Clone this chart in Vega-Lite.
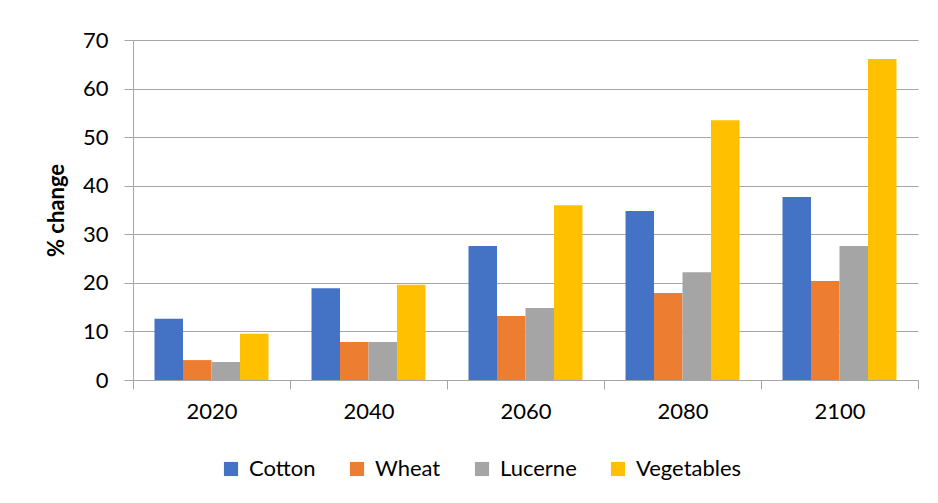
{
  "$schema": "https://vega.github.io/schema/vega-lite/v6.json",
  "width": 785,
  "height": 340,
  "autosize": {"type": "none"},
  "padding": {"left": 133, "top": 40, "right": 20, "bottom": 123},
  "background": "white",
  "data": {"values": [
    {"year": "2020", "crop": "Cotton", "value": 12.6},
    {"year": "2020", "crop": "Wheat", "value": 4.1},
    {"year": "2020", "crop": "Lucerne", "value": 3.7},
    {"year": "2020", "crop": "Vegetables", "value": 9.5},
    {"year": "2040", "crop": "Cotton", "value": 18.9},
    {"year": "2040", "crop": "Wheat", "value": 7.8},
    {"year": "2040", "crop": "Lucerne", "value": 7.8},
    {"year": "2040", "crop": "Vegetables", "value": 19.6},
    {"year": "2060", "crop": "Cotton", "value": 27.6},
    {"year": "2060", "crop": "Wheat", "value": 13.2},
    {"year": "2060", "crop": "Lucerne", "value": 14.8},
    {"year": "2060", "crop": "Vegetables", "value": 36.0},
    {"year": "2080", "crop": "Cotton", "value": 34.8},
    {"year": "2080", "crop": "Wheat", "value": 17.9},
    {"year": "2080", "crop": "Lucerne", "value": 22.2},
    {"year": "2080", "crop": "Vegetables", "value": 53.5},
    {"year": "2100", "crop": "Cotton", "value": 37.7},
    {"year": "2100", "crop": "Wheat", "value": 20.4},
    {"year": "2100", "crop": "Lucerne", "value": 27.6},
    {"year": "2100", "crop": "Vegetables", "value": 66.1}
  ]},
  "mark": {"type": "bar"},
  "encoding": {
    "x": {
      "field": "year", "type": "nominal",
      "scale": {"paddingInner": 0, "paddingOuter": 0},
      "axis": {
        "title": null, "labelAngle": 0, "labelFontSize": 22, "labelColor": "#000000",
        "labelPadding": 12, "tickBand": "extent", "tickSize": 9, "tickColor": "#A6A6A6",
        "domainColor": "#A6A6A6", "grid": false
      }
    },
    "xOffset": {
      "field": "crop", "type": "nominal",
      "sort": ["Cotton", "Wheat", "Lucerne", "Vegetables"],
      "scale": {"paddingInner": 0, "paddingOuter": 0.755}
    },
    "y": {
      "field": "value", "type": "quantitative",
      "scale": {"domain": [0, 70], "nice": false},
      "axis": {
        "title": "% change", "titleFontSize": 22, "titleFontWeight": "bold", "titleColor": "#000000",
        "titlePadding": 14, "values": [0, 10, 20, 30, 40, 50, 60, 70],
        "labelFontSize": 22, "labelColor": "#000000", "labelPadding": 16,
        "tickSize": 9, "tickColor": "#A6A6A6", "domainColor": "#A6A6A6",
        "gridColor": "#A6A6A6", "gridWidth": 1
      }
    },
    "color": {
      "field": "crop", "type": "nominal",
      "sort": ["Cotton", "Wheat", "Lucerne", "Vegetables"],
      "scale": {"domain": ["Cotton", "Wheat", "Lucerne", "Vegetables"], "range": ["#4472C4", "#ED7D31", "#A5A5A5", "#FFC000"]},
      "legend": {
        "title": null, "orient": "none", "direction": "horizontal",
        "legendX": 87, "legendY": 418,
        "symbolType": "square", "symbolSize": 200, "symbolStrokeWidth": 0, "symbolOpacity": 1,
        "labelFontSize": 22, "labelColor": "#000000", "columnPadding": 30, "labelOffset": 7
      }
    }
  },
  "config": {
    "font": "Lato",
    "view": {"stroke": null}
  }
}
